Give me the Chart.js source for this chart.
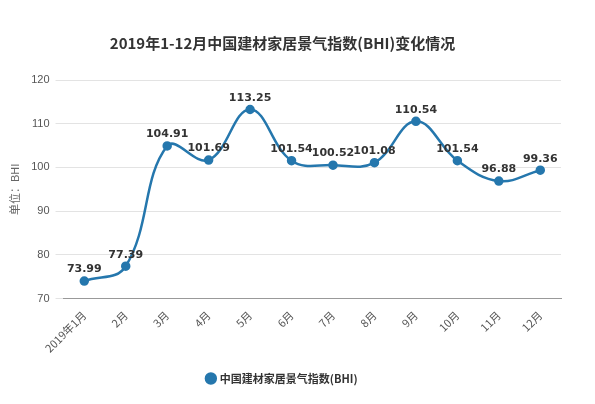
<!DOCTYPE html>
<html><head><meta charset="utf-8">
<script src="https://cdn.jsdelivr.net/npm/chart.js@4"></script>
<style>html,body{margin:0;padding:0;background:#fff}#w{width:595px;height:404px}</style>
</head><body><div id="w"><canvas id="c"></canvas></div>
<script>
const categories = ['2019年1月','2月','3月','4月','5月','6月','7月','8月','9月','10月','11月','12月'];
const values = [73.99,77.39,104.91,101.69,113.25,101.54,100.52,101.08,110.54,101.54,96.88,99.36];
const yTicks = [70,80,90,100,110,120];
const seriesName = '中国建材家居景气指数(BHI)';
const color = '#2577ad';
const labelPlugin = {id:'lbl',afterDatasetsDraw(ch){
  const ctx=ch.ctx, meta=ch.getDatasetMeta(0);
  ctx.save();ctx.font='bold 11px "DejaVu Sans"';ctx.fillStyle='#333';ctx.textAlign='center';ctx.textBaseline='bottom';
  meta.data.forEach((p,i)=>ctx.fillText(values[i].toFixed(2),p.x,p.y-6));
  ctx.restore();}};
new Chart(document.getElementById('c'),{type:'line',
 data:{labels:categories,datasets:[{label:seriesName,data:values,borderColor:color,backgroundColor:color,
  borderWidth:2.5,tension:0.4,pointRadius:3.5,pointBackgroundColor:color,pointBorderColor:color}]},
 options:{responsive:true,maintainAspectRatio:false,animation:false,
  layout:{padding:{left:4,right:34,top:18,bottom:10}},
  plugins:{title:{display:true,text:'2019年1-12月中国建材家居景气指数(BHI)变化情况',font:{size:15,weight:'bold',family:'"Noto Sans CJK SC"'},color:'#333',padding:{top:16,bottom:28}},
   legend:{position:'bottom',labels:{usePointStyle:true,pointStyle:'circle',boxWidth:7,boxHeight:7,color:'#333',font:{size:11,weight:'bold',family:'"Noto Sans CJK SC"'},padding:16}},
   tooltip:{enabled:false}},
  scales:{x:{offset:true,grid:{display:false},border:{color:'#999'},ticks:{color:'#555',maxRotation:45,minRotation:45,padding:2,font:{size:11,family:'"Noto Sans CJK SC"'}}},
   y:{min:70,max:120,afterBuildTicks(s){s.ticks=yTicks.map(v=>({value:v}));},grid:{color:'#e3e3e3'},border:{display:false},
    ticks:{color:'#555',font:{size:11},padding:6},
    title:{display:true,text:'单位：BHI',color:'#666',font:{size:11,family:'"Noto Sans CJK SC"'}}}}},
 plugins:[labelPlugin]});
</script></body></html>
